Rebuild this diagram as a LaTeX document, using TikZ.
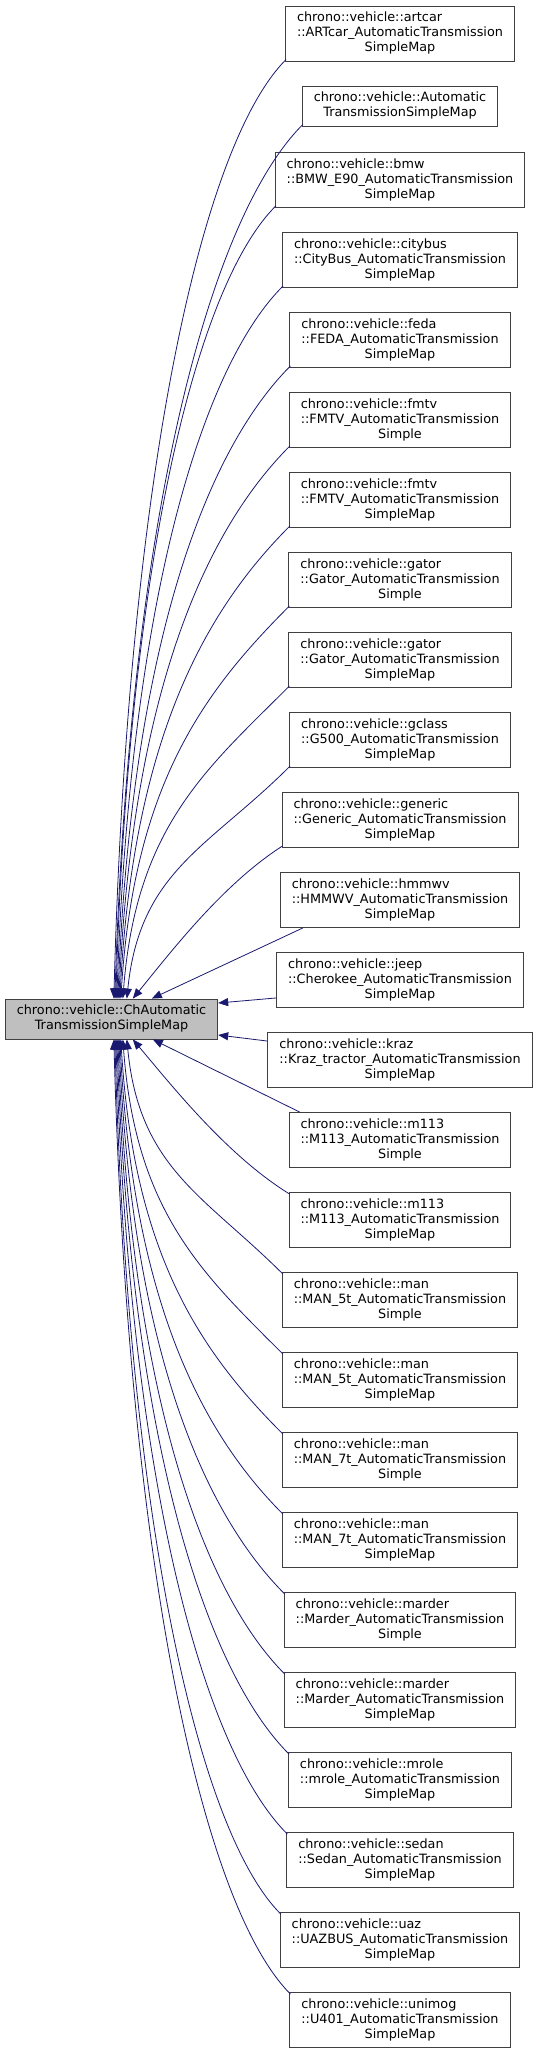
\documentclass[tikz,border=0pt]{standalone}
\usepackage{fontspec}
\setmainfont{DejaVu Sans}
\usetikzlibrary{arrows.meta,calc}
\definecolor{mblue}{HTML}{191970}
\definecolor{bord}{HTML}{404040}
\tikzset{
  cls/.style={draw=bord, line width=0.9pt, fill=white, inner xsep=11.5pt, inner ysep=5pt,
    font=\fontsize{12.8}{15}\selectfont, text=black},
  basecls/.style={cls, fill=black!25},
  edge/.style={draw=mblue, line width=0.8pt, -{Triangle[length=10pt,width=8pt]}},
}
\newcommand\clsA[3]{\begin{tabular}{@{}l@{}}#1\\#2\\\multicolumn{1}{@{}c@{}}{#3}\end{tabular}}
% #3 = -1 for edges going down (upper nodes), +1 for edges going up (lower nodes)
\newcommand\curvedge[3]{\draw[edge] let \p1=(#1), \p2=(#2) in (\p1) .. controls ({\x1+0.5*(\x2-\x1)},{\y1+#3*0.5*(\x1-\x2)}) and ({\x2+0.08*(\x1-\x2)},{\y1+0.45*(\y2-\y1)}) .. (\p2);}
\newcommand\softedge[2]{\draw[edge] let \p1=(#1), \p2=(#2) in (\p1) .. controls ({\x1+0.4*(\x2-\x1)},{\y1+0.25*(\y2-\y1)}) and ({\x2+0.25*(\x1-\x2)},{\y1+0.7*(\y2-\y1)}) .. (\p2);}
\begin{document}
\begin{tikzpicture}[x=1pt,y=-1pt]
\useasboundingbox (0,0) rectangle (540,2053);
\node[basecls] (L) at (111.5,1019) {\begin{tabular}{@{}c@{}}chrono::vehicle::ChAutomatic\\TransmissionSimpleMap\end{tabular}};
\node[cls] (n1) at (400,33.5) {\clsA{chrono::vehicle::artcar}{::ARTcar\_AutomaticTransmission}{SimpleMap}};
\node[cls] (n2) at (400,106) {\begin{tabular}{@{}c@{}}chrono::vehicle::Automatic\\TransmissionSimpleMap\end{tabular}};
\node[cls] (n3) at (400,180) {\clsA{chrono::vehicle::bmw}{::BMW\_E90\_AutomaticTransmission}{SimpleMap}};
\node[cls] (n4) at (400,260) {\clsA{chrono::vehicle::citybus}{::CityBus\_AutomaticTransmission}{SimpleMap}};
\node[cls] (n5) at (400,340) {\clsA{chrono::vehicle::feda}{::FEDA\_AutomaticTransmission}{SimpleMap}};
\node[cls] (n6) at (400,420) {\clsA{chrono::vehicle::fmtv}{::FMTV\_AutomaticTransmission}{Simple}};
\node[cls] (n7) at (400,500) {\clsA{chrono::vehicle::fmtv}{::FMTV\_AutomaticTransmission}{SimpleMap}};
\node[cls] (n8) at (400,580) {\clsA{chrono::vehicle::gator}{::Gator\_AutomaticTransmission}{Simple}};
\node[cls] (n9) at (400,660) {\clsA{chrono::vehicle::gator}{::Gator\_AutomaticTransmission}{SimpleMap}};
\node[cls] (n10) at (400,740) {\clsA{chrono::vehicle::gclass}{::G500\_AutomaticTransmission}{SimpleMap}};
\node[cls] (n11) at (400,820) {\clsA{chrono::vehicle::generic}{::Generic\_AutomaticTransmission}{SimpleMap}};
\node[cls] (n12) at (400,900) {\clsA{chrono::vehicle::hmmwv}{::HMMWV\_AutomaticTransmission}{SimpleMap}};
\node[cls] (n13) at (400,980) {\clsA{chrono::vehicle::jeep}{::Cherokee\_AutomaticTransmission}{SimpleMap}};
\node[cls] (n14) at (400,1060) {\clsA{chrono::vehicle::kraz}{::Kraz\_tractor\_AutomaticTransmission}{SimpleMap}};
\node[cls] (n15) at (400,1140) {\clsA{chrono::vehicle::m113}{::M113\_AutomaticTransmission}{Simple}};
\node[cls] (n16) at (400,1220) {\clsA{chrono::vehicle::m113}{::M113\_AutomaticTransmission}{SimpleMap}};
\node[cls] (n17) at (400,1300) {\clsA{chrono::vehicle::man}{::MAN\_5t\_AutomaticTransmission}{Simple}};
\node[cls] (n18) at (400,1380) {\clsA{chrono::vehicle::man}{::MAN\_5t\_AutomaticTransmission}{SimpleMap}};
\node[cls] (n19) at (400,1460) {\clsA{chrono::vehicle::man}{::MAN\_7t\_AutomaticTransmission}{Simple}};
\node[cls] (n20) at (400,1540) {\clsA{chrono::vehicle::man}{::MAN\_7t\_AutomaticTransmission}{SimpleMap}};
\node[cls] (n21) at (400,1620) {\clsA{chrono::vehicle::marder}{::Marder\_AutomaticTransmission}{Simple}};
\node[cls] (n22) at (400,1700) {\clsA{chrono::vehicle::marder}{::Marder\_AutomaticTransmission}{SimpleMap}};
\node[cls] (n23) at (400,1780) {\clsA{chrono::vehicle::mrole}{::mrole\_AutomaticTransmission}{SimpleMap}};
\node[cls] (n24) at (400,1860) {\clsA{chrono::vehicle::sedan}{::Sedan\_AutomaticTransmission}{SimpleMap}};
\node[cls] (n25) at (400,1940) {\clsA{chrono::vehicle::uaz}{::UAZBUS\_AutomaticTransmission}{SimpleMap}};
\node[cls] (n26) at (400,2020) {\clsA{chrono::vehicle::unimog}{::U401\_AutomaticTransmission}{SimpleMap}};
% upper edges
\curvedge{$(n1.south west)+(1,-2)$}{$(L.north west)+(109,0)$}{-1}
\curvedge{$(n2.south west)+(1,-2)$}{$(L.north west)+(110,0)$}{-1}
\curvedge{$(n3.south west)+(1,-2)$}{$(L.north west)+(111,0)$}{-1}
\curvedge{$(n4.south west)+(1,-2)$}{$(L.north west)+(112,0)$}{-1}
\curvedge{$(n5.south west)+(1,-2)$}{$(L.north west)+(113,0)$}{-1}
\curvedge{$(n6.south west)+(1,-2)$}{$(L.north west)+(114,0)$}{-1}
\curvedge{$(n7.south west)+(1,-2)$}{$(L.north west)+(115,0)$}{-1}
\curvedge{$(n8.south west)+(1,-2)$}{$(L.north west)+(116,0)$}{-1}
\curvedge{$(n9.south west)+(1,-2)$}{$(L.north west)+(118,0)$}{-1}
\curvedge{$(n10.south west)+(1,-2)$}{$(L.north west)+(122,0)$}{-1}
\softedge{$(n11.south west)+(1,-2)$}{$(L.north west)+(128,0)$}
\draw[edge] ($(n12.south west)+(23,0)$) -- ($(L.north west)+(147,0)$);
% side edges
\draw[edge] ($(n13.south west)+(0,-10)$) -- ($(L.east)+(0,-16)$);
\draw[edge] ($(n14.north west)+(0,9)$) -- ($(L.east)+(0,16)$);
% lower edges
\draw[edge] ($(n15.north west)+(11,0)$) -- ($(L.south west)+(148,0)$);
\softedge{$(n16.north west)+(1,2)$}{$(L.south west)+(128,0)$}
\curvedge{$(n17.north west)+(1,2)$}{$(L.south west)+(122,0)$}{1}
\curvedge{$(n18.north west)+(1,2)$}{$(L.south west)+(118,0)$}{1}
\curvedge{$(n19.north west)+(1,2)$}{$(L.south west)+(116,0)$}{1}
\curvedge{$(n20.north west)+(1,2)$}{$(L.south west)+(115,0)$}{1}
\curvedge{$(n21.north west)+(1,2)$}{$(L.south west)+(114,0)$}{1}
\curvedge{$(n22.north west)+(1,2)$}{$(L.south west)+(113,0)$}{1}
\curvedge{$(n23.north west)+(1,2)$}{$(L.south west)+(112,0)$}{1}
\curvedge{$(n24.north west)+(1,2)$}{$(L.south west)+(111,0)$}{1}
\curvedge{$(n25.north west)+(1,2)$}{$(L.south west)+(110,0)$}{1}
\curvedge{$(n26.north west)+(1,2)$}{$(L.south west)+(109,0)$}{1}
\end{tikzpicture}
\end{document}
